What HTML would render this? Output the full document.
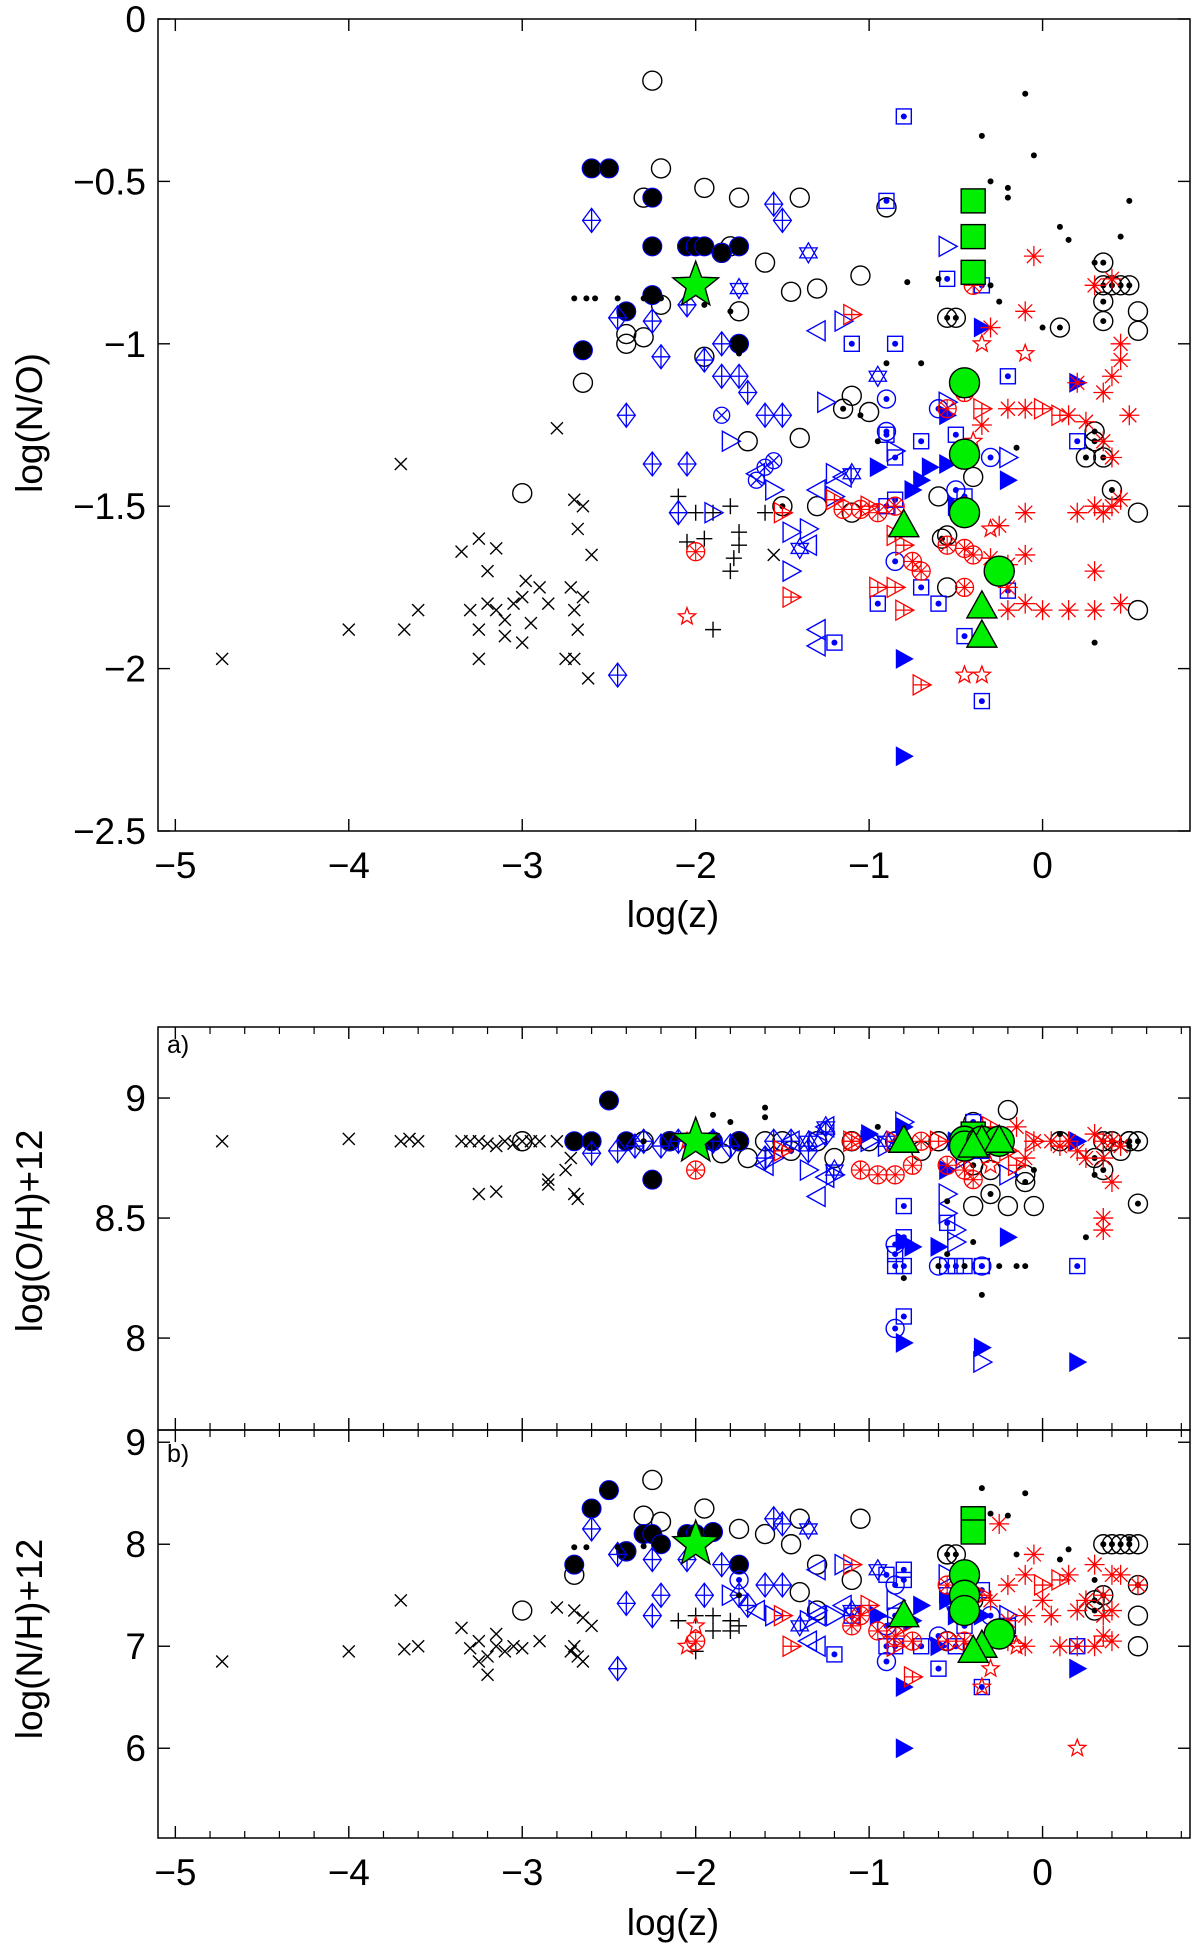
<!DOCTYPE html>
<html><head><meta charset="utf-8"><style>
html,body{margin:0;padding:0;background:#fff;}
svg{display:block;font-family:"Liberation Sans",sans-serif;}
</style></head><body>
<svg id="fig" width="1200" height="1950" viewBox="0 0 1200 1950" xmlns="http://www.w3.org/2000/svg"></svg>
<script>
// ---------- DATA: top panel log(N/O) vs log(z) ----------
const topCross=[[-4.73,-1.97],[-4,-1.88],[-3.7,-1.37],[-3.68,-1.88],[-3.6,-1.82],[-3.35,-1.64],[-3.25,-1.6],[-3.2,-1.7],[-3.15,-1.63],[-3.3,-1.82],[-3.25,-1.88],[-3.2,-1.8],[-3.15,-1.82],[-3.1,-1.85],[-3.05,-1.8],[-3.0,-1.92],[-2.95,-1.86],[-2.9,-1.75],[-2.85,-1.8],[-3.25,-1.97],[-3.1,-1.9],[-2.8,-1.26],[-2.7,-1.48],[-2.65,-1.5],[-2.68,-1.57],[-2.6,-1.65],[-2.72,-1.75],[-2.7,-1.82],[-2.65,-1.78],[-2.68,-1.88],[-2.75,-1.97],[-2.62,-2.03],[-2.7,-1.97],[-3.0,-1.78],[-2.98,-1.73],[-1.55,-1.65]];
const topPlus=[[-2.1,-1.47],[-2,-1.52],[-1.9,-1.52],[-1.8,-1.5],[-1.75,-1.62],[-1.78,-1.66],[-1.8,-1.7],[-1.95,-1.6],[-2.05,-1.61],[-1.9,-1.88],[-1.6,-1.52],[-1.75,-1.58]];
const topDot=[[-2.7,-0.86],[-2.63,-0.86],[-2.58,-0.86],[-2.45,-0.86],[-2.3,-0.86],[-2.2,-0.86],[-1.95,-0.88],[-1.8,-0.9],[-1.75,-1.03],[-1.05,-1.22],[-0.78,-0.81],[-0.6,-0.8],[-0.35,-0.36],[-0.3,-0.5],[-0.2,-0.52],[-0.2,-0.55],[-0.1,-0.23],[-0.05,-0.42],[0.1,-0.64],[0.15,-0.68],[0.3,-0.75],[0.45,-0.67],[0.5,-0.56],[-0.5,-1.32],[0.3,-1.92],[-0.15,-1.32],[0,-0.95],[-0.7,-1.06],[-0.9,-1.06],[-0.95,-1.3],[-0.25,-0.87],[-0.3,-0.82]];
const topOpenCircle=[[-2.25,-0.19],[-2.3,-0.55],[-2.2,-0.46],[-1.95,-0.52],[-1.75,-0.55],[-1.8,-0.7],[-1.85,-0.72],[-1.6,-0.75],[-1.45,-0.84],[-1.3,-0.83],[-1.05,-0.79],[-1.4,-0.55],[-0.9,-0.58],[-2.3,-0.98],[-2.4,-0.97],[-2.65,-1.12],[-2.4,-1.0],[-3.0,-1.46],[-1.1,-1.16],[-1.4,-1.29],[-1.0,-1.21],[-1.3,-1.5],[-1.1,-1.52],[-0.55,-1.75],[-0.55,-1.59],[-0.6,-1.47],[-0.4,-1.41],[0.55,-1.52],[0.55,-1.82],[0.55,-0.96],[0.55,-0.9],[-1.7,-1.3],[-1.95,-1.04],[-2.2,-0.88],[-1.75,-0.9]];
const topFilledCircle=[[-2.6,-0.46],[-2.5,-0.46],[-2.25,-0.55],[-2.25,-0.7],[-2.05,-0.7],[-2.0,-0.7],[-1.95,-0.7],[-1.75,-0.7],[-2.4,-0.9],[-2.25,-0.85],[-2.65,-1.02],[-1.75,-1.0],[-1.85,-0.72]];
const topCircleDot=[[-0.55,-0.92],[-0.5,-0.92],[0.35,-0.75],[0.35,-0.82],[0.4,-0.82],[0.45,-0.82],[0.5,-0.82],[0.35,-0.87],[0.35,-0.93],[0.3,-1.27],[0.3,-1.3],[0.35,-1.35],[0.4,-1.45],[-1.15,-1.2],[-1.5,-1.5],[0.25,-1.35],[-0.58,-1.6],[0.1,-0.95]];
const topDiamond=[[-2.6,-0.62],[-2.45,-0.92],[-2.25,-0.93],[-2.2,-1.04],[-2.05,-0.88],[-1.95,-1.05],[-1.85,-1.0],[-1.75,-1.1],[-2.4,-1.22],[-2.25,-1.37],[-2.05,-1.37],[-1.6,-1.22],[-1.5,-1.22],[-1.55,-0.57],[-1.5,-0.62],[-2.45,-2.02],[-1.7,-1.15],[-1.85,-1.1],[-2.1,-1.52]];
const topCircleX=[[-1.85,-1.22],[-1.6,-1.38],[-1.65,-1.42],[-1.55,-1.36]];
const topTriRightBlue=[[-1.8,-1.3],[-1.55,-1.45],[-1.45,-1.58],[-1.35,-1.57],[-1.2,-1.4],[-1.15,-0.93],[-0.85,-1.33],[-0.55,-0.7],[-0.2,-1.35],[-1.2,-1.47],[-1.45,-1.7],[-1.25,-1.18],[-1.9,-1.52],[-0.55,-1.18]];
const topTriLeftBlue=[[-1.35,-1.62],[-1.3,-1.45],[-1.3,-1.88],[-1.15,-1.41],[-1.3,-0.96],[-1.65,-1.4],[-1.3,-1.93]];
const topHexagram=[[-1.4,-1.63],[-1.35,-0.72],[-0.95,-1.1],[-1.1,-1.4],[-1.75,-0.83]];
const topSquareDot=[[-0.8,-0.3],[-0.9,-0.56],[-0.55,-0.8],[-0.35,-0.82],[-0.85,-1.0],[-1.1,-1.0],[-0.2,-1.1],[-0.85,-1.35],[-0.9,-1.28],[-0.7,-1.3],[-0.5,-1.28],[-0.9,-1.5],[-0.85,-1.48],[-0.7,-1.75],[-0.6,-1.8],[-0.45,-1.9],[-0.35,-2.1],[-1.2,-1.92],[-0.95,-1.8],[0.2,-1.3],[-0.2,-1.76],[-0.45,-1.47]];
const topCircleDotBlue=[[-0.9,-1.27],[-0.9,-1.17],[-0.5,-1.45],[-0.3,-1.35],[-0.85,-1.67],[-0.6,-1.2]];
const topFilledTri=[[-0.75,-1.45],[-0.7,-1.42],[-0.65,-1.38],[-0.55,-1.22],[-0.55,-1.37],[-0.95,-1.38],[-0.35,-0.95],[-0.2,-1.42],[0.2,-1.12],[-0.8,-1.97],[-0.8,-2.27],[-0.5,-1.5]];
const topAsterisk=[[-0.05,-0.73],[-0.1,-0.9],[-0.3,-0.95],[0.3,-0.82],[0.4,-0.8],[0.45,-1.0],[0.45,-1.05],[0.4,-1.1],[0.35,-1.15],[0.2,-1.12],[0.15,-1.22],[0.25,-1.24],[0.5,-1.22],[0.35,-1.3],[0.4,-1.35],[0.45,-1.48],[0.35,-1.52],[0.3,-1.5],[0.2,-1.52],[0.4,-1.5],[-0.2,-1.2],[-0.1,-1.2],[-0.35,-1.25],[-0.25,-1.56],[-0.1,-1.52],[-0.1,-1.65],[-0.2,-1.68],[-0.1,-1.8],[-0.2,-1.82],[-0.45,-1.5],[0.0,-1.82],[0.15,-1.82],[0.3,-1.82],[0.45,-1.8],[0.3,-1.7],[-0.3,-1.66],[-0.2,-1.75]];
const topCircleAst=[[-2.0,-1.64],[-1.05,-1.51],[-1.15,-1.51],[-0.85,-1.5],[-0.75,-1.67],[-0.7,-1.7],[-0.55,-1.62],[-0.45,-1.63],[-0.4,-1.65],[-0.45,-1.75],[-0.55,-1.2],[-0.45,-1.15],[-0.95,-1.52],[-0.4,-0.82]];
const topTriRightRed=[[-1.5,-1.52],[-1.45,-1.78],[-1.0,-1.5],[-0.8,-1.62],[-0.85,-1.75],[-0.8,-1.82],[-0.7,-2.05],[-1.1,-0.91],[-0.35,-1.2],[0.0,-1.2],[0.1,-1.22],[-1.2,-1.48],[-0.95,-1.75],[-0.85,-1.59]];
const topPentagram=[[-2.05,-1.84],[-0.4,-1.3],[-0.35,-1.0],[-0.1,-1.03],[-0.45,-2.02],[-0.35,-2.02],[-0.3,-1.57]];
const topGreenCircle=[[-0.45,-1.12],[-0.45,-1.34],[-0.45,-1.52],[-0.25,-1.7]];
const topGreenTri=[[-0.8,-1.56],[-0.35,-1.81],[-0.35,-1.9]];
const topGreenSquare=[[-0.4,-0.56],[-0.4,-0.67],[-0.4,-0.78]];
const topGreenStar=[[-2,-0.82]];

// ---------- DATA: panel a) log(O/H)+12 ----------
const aCross=[[-4.73,8.82],[-4,8.83],[-3.7,8.82],[-3.65,8.83],[-3.6,8.82],[-3.35,8.82],[-3.3,8.82],[-3.25,8.82],[-3.2,8.81],[-3.15,8.8],[-3.1,8.82],[-3.05,8.81],[-3.0,8.82],[-2.95,8.82],[-2.9,8.82],[-2.8,8.82],[-2.7,8.82],[-3.25,8.6],[-3.15,8.61],[-2.85,8.66],[-2.75,8.7],[-2.7,8.6],[-2.68,8.58],[-2.85,8.64],[-2.72,8.75]];
const aFilledCircle=[[-2.7,8.82],[-2.6,8.82],[-2.5,8.99],[-2.25,8.66],[-2.4,8.82],[-1.75,8.82],[-1.9,8.82],[-2.15,8.82]];
const aOpenCircle=[[-3.0,8.82],[-2.3,8.82],[-1.7,8.75],[-1.2,8.75],[-0.4,8.9],[-0.2,8.95],[-0.4,8.55],[-0.3,8.6],[-0.2,8.55],[-0.05,8.55],[0.1,8.82],[-0.1,8.68],[-0.7,8.78],[-1.0,8.82],[-1.5,8.82],[-2.0,8.82],[0.5,8.82],[0.45,8.78],[-1.85,8.77],[-1.6,8.82],[-1.3,8.82],[-1.1,8.82],[-0.85,8.82],[-0.6,8.82],[-0.3,8.7]];
const aCircleDot=[[0.5,8.82],[0.55,8.82],[0.35,8.82],[0.4,8.82],[0.3,8.75],[0.55,8.56],[0.35,8.7],[-0.4,8.72],[-0.1,8.65],[-2.15,8.82],[-1.75,8.82],[-1.45,8.78]];
const aDot=[[-0.8,8.25],[-0.6,8.3],[-0.55,8.35],[-0.45,8.3],[-0.35,8.18],[-0.3,8.6],[-0.15,8.3],[-0.1,8.3],[-0.25,8.3],[0.1,8.85],[0.3,8.68],[0.5,8.8],[-0.95,8.88],[-0.55,8.57],[-1.8,8.9],[-1.6,8.92],[-1.6,8.96],[-1.9,8.93],[-0.4,8.4],[-0.05,8.7],[0.25,8.42],[-2.7,8.82],[-2.3,8.82]];
const aDiamond=[[-2.6,8.77],[-2.45,8.78],[-2.3,8.82],[-2.1,8.82],[-1.9,8.82],[-1.55,8.82],[-1.45,8.82],[-1.35,8.78],[-1.25,8.85],[-1.6,8.75],[-2.35,8.8],[-2.2,8.8],[-1.8,8.8]];
const aTriRightBlue=[[-1.55,8.75],[-1.35,8.7],[-1.2,8.68],[-1.0,8.82],[-0.8,8.9],[-0.55,8.6],[-0.5,8.4],[-0.45,8.75],[-0.2,8.68],[-0.35,7.9],[-0.9,8.8],[-1.3,8.82],[-0.55,8.52],[-0.5,8.45]];
const aTriLeftBlue=[[-1.3,8.59],[-1.25,8.67],[-1.25,8.88],[-1.45,8.82],[-1.6,8.72]];
const aHexagram=[[-1.25,8.88],[-1.35,8.82],[-0.9,8.82],[-1.2,8.7]];
const aSquareDot=[[-0.8,8.55],[-0.8,8.42],[-0.85,8.35],[-0.85,8.3],[-0.8,8.3],[-0.55,8.3],[-0.5,8.3],[-0.45,8.3],[-0.35,8.3],[0.2,8.3],[-0.8,8.09],[-0.5,8.82],[-0.35,8.78],[-0.55,8.48],[-0.4,8.9]];
const aCircleDotBlue=[[-0.85,8.39],[-0.85,8.04],[-0.6,8.3],[-0.4,8.82],[-0.35,8.3],[-0.85,8.82]];
const aFilledTri=[[-0.8,8.4],[-0.75,8.38],[-0.6,8.38],[-0.2,8.42],[-0.8,7.98],[-0.35,7.96],[0.2,7.9],[-0.8,8.88],[-1.0,8.85],[-0.5,8.82],[0.2,8.82],[-0.55,8.7]];
const aAsterisk=[[0.05,8.82],[0.15,8.82],[0.3,8.85],[0.35,8.82],[0.4,8.82],[0.45,8.8],[0.25,8.75],[0.35,8.75],[0.4,8.65],[0.35,8.5],[0.35,8.45],[-0.1,8.75],[-0.25,8.82],[-0.15,8.88],[-0.05,8.82],[0.2,8.78],[-0.35,8.85],[0.1,8.8]];
const aCircleAst=[[-2.0,8.7],[-1.05,8.7],[-0.95,8.68],[-0.85,8.68],[-0.75,8.72],[-0.55,8.72],[-0.45,8.7],[-1.1,8.82],[-0.7,8.82],[-0.4,8.66]];
const aTriRightRed=[[-1.5,8.78],[-1.1,8.82],[-0.85,8.82],[-0.3,8.88],[-0.05,8.82],[-0.2,8.78],[-0.6,8.82],[-0.15,8.72]];
const aPentagram=[[-0.4,8.8],[-0.3,8.72],[-2.05,8.82]];
const aGreenCircle=[[-0.45,8.82],[-0.45,8.8],[-0.35,8.82],[-0.25,8.82]];
const aGreenTri=[[-0.8,8.82],[-0.35,8.82],[-0.25,8.82],[-0.4,8.8]];
const aGreenSquare=[[-0.4,8.82],[-0.4,8.85]];
const aGreenStar=[[-2,8.82]];

// ---------- DATA: panel b) log(N/H)+12 ----------
const bCross=[[-4.73,6.85],[-4,6.95],[-3.7,7.45],[-3.68,6.97],[-3.6,7.0],[-3.35,7.18],[-3.3,6.98],[-3.25,7.05],[-3.2,6.9],[-3.15,7.12],[-3.1,6.95],[-3.05,7.0],[-3.0,6.98],[-2.9,7.05],[-2.8,7.38],[-2.7,7.35],[-2.65,7.28],[-2.6,7.2],[-2.7,7.0],[-2.68,6.9],[-2.65,6.85],[-3.25,6.85],[-3.2,6.72],[-3.15,7.0],[-2.72,6.95]];
const bPlus=[[-2.1,7.25],[-2.0,7.3],[-1.9,7.3],[-1.8,7.25],[-1.75,7.2],[-1.8,7.15],[-2.0,6.95],[-1.9,7.15]];
const bFilledCircle=[[-2.7,7.8],[-2.6,8.35],[-2.5,8.53],[-2.3,8.1],[-2.25,8.1],[-2.2,8.0],[-2.05,8.1],[-2.0,8.1],[-1.9,8.12],[-1.75,7.8],[-2.4,7.93]];
const bOpenCircle=[[-2.25,8.63],[-2.3,8.28],[-2.2,8.22],[-2.4,7.93],[-2.7,7.7],[-3.0,7.35],[-1.95,8.35],[-1.75,8.15],[-1.6,8.1],[-1.45,8.0],[-1.3,7.8],[-1.05,8.25],[-1.4,8.25],[-1.1,7.65],[-1.4,7.53],[-1.3,7.35],[-0.55,7.9],[0.55,7.3],[0.55,7.0],[0.55,8.0],[-0.55,7.05],[-0.4,7.45]];
const bCircleDot=[[0.35,8.0],[0.4,8.0],[0.45,8.0],[0.5,8.0],[0.3,7.45],[0.35,7.5],[0.3,7.35],[-0.55,7.9],[-0.5,7.9],[0.55,7.6]];
const bDot=[[-2.7,7.97],[-2.63,7.97],[-2.45,7.97],[-2.3,7.98],[-1.75,7.5],[-0.35,8.55],[-0.3,8.3],[-0.2,8.28],[-0.1,8.5],[0.1,7.85],[0.15,7.95],[0.5,8.05],[-0.45,7.45],[-0.8,7.3],[-0.15,7.9],[0.3,7.65]];
const bDiamond=[[-2.6,8.15],[-2.45,7.9],[-2.25,7.85],[-2.2,7.5],[-2.05,7.85],[-1.95,7.5],[-1.85,7.8],[-1.75,7.5],[-2.4,7.42],[-2.25,7.3],[-1.6,7.6],[-1.5,7.6],[-1.55,8.25],[-1.5,8.2],[-2.45,6.78],[-1.7,7.4]];
const bTriRightBlue=[[-1.8,7.5],[-1.55,7.3],[-1.35,7.25],[-1.2,7.3],[-1.15,7.8],[-0.85,7.45],[-0.55,7.7],[-0.2,7.3],[-1.3,7.35]];
const bTriLeftBlue=[[-1.35,7.05],[-1.3,7.3],[-1.3,7.0],[-1.15,7.4],[-1.3,7.75],[-1.65,7.35]];
const bHexagram=[[-1.4,7.2],[-1.35,8.15],[-0.95,7.75],[-1.1,7.35]];
const bSquareDot=[[-0.8,7.65],[-0.9,7.7],[-0.55,7.5],[-0.35,7.55],[-0.85,7.3],[-1.1,7.3],[-0.2,7.2],[-0.85,7.0],[-0.7,7.0],[-0.5,7.0],[-0.9,7.0],[-0.6,6.78],[-0.45,7.2],[-0.35,6.6],[-1.2,6.92],[0.2,7.0],[-0.8,7.75]];
const bCircleDotBlue=[[-0.9,6.85],[-0.9,7.2],[-0.5,7.4],[-0.3,7.3],[-0.85,7.6],[-0.6,7.1],[-1.75,7.65]];
const bFilledTri=[[-0.75,7.25],[-0.7,7.4],[-0.6,7.0],[-0.55,7.45],[-0.95,7.3],[-0.35,7.3],[-0.2,7.1],[0.2,6.78],[-0.8,6.6],[-0.8,6.0],[-0.5,7.3]];
const bAsterisk=[[-0.05,7.9],[-0.1,7.7],[-0.2,7.6],[-0.25,8.2],[0.3,7.8],[0.4,7.7],[0.45,7.7],[0.35,7.5],[0.4,7.35],[0.35,7.3],[0.25,7.45],[0.55,7.6],[0.35,7.1],[0.4,7.05],[0.3,7.0],[0.2,7.0],[0.1,7.0],[-0.1,7.3],[-0.2,7.25],[-0.1,7.0],[-0.2,7.05],[0.0,7.45],[0.05,7.3],[-0.3,7.45],[0.2,7.35],[0.15,7.7]];
const bCircleAst=[[-2.0,7.05],[-1.05,7.3],[-0.95,7.15],[-0.85,7.1],[-0.75,7.05],[-0.55,7.05],[-0.45,7.05],[-0.4,7.5],[-0.55,7.6],[-1.1,7.2]];
const bTriRightRed=[[-1.5,7.3],[-1.45,7.0],[-1.0,7.4],[-0.8,7.2],[-0.85,7.0],[-0.75,6.7],[-1.1,7.8],[-0.35,7.5],[0.0,7.6],[0.1,7.65]];
const bPentagram=[[-2.05,7.0],[-2.0,7.2],[-0.4,7.0],[-0.3,6.78],[-0.15,7.0],[-0.35,6.6],[0.2,6.0]];
const bGreenCircle=[[-0.45,7.7],[-0.45,7.5],[-0.45,7.35],[-0.25,7.12]];
const bGreenTri=[[-0.8,7.3],[-0.35,7.0],[-0.4,6.95]];
const bGreenSquare=[[-0.4,8.25],[-0.4,8.12]];
const bGreenStar=[[-2,8.0]];

// ---------- AXES ----------
const xTicks=[-5,-4,-3,-2,-1,0];
const xTickLabels=["\u22125","\u22124","\u22123","\u22122","\u22121","0"];
const topYTicks=[-2.5,-2,-1.5,-1,-0.5,0];
const topYTickLabels=["\u22122.5","\u22122","\u22121.5","\u22121","\u22120.5","0"];
const aYTicks=[8,8.5,9];
const aYTickLabels=["8","8.5","9"];
const bYTicks=[6,7,8,9];
const bYTickLabels=["6","7","8","9"];

const NS="http://www.w3.org/2000/svg";
const svg=document.getElementById('fig');
function el(tag,attrs,parent){const e=document.createElementNS(NS,tag);for(const k in attrs)e.setAttribute(k,attrs[k]);(parent||svg).appendChild(e);return e;}

const X0=158,X1=1190,XMIN=-5.1,XMAX=0.85;
function xs(v){return X0+(v-XMIN)/(XMAX-XMIN)*(X1-X0);}
function makeY(ymin,ymax,py0,py1){return v=>py1-(v-ymin)/(ymax-ymin)*(py1-py0);}
const panels={
  top:{y:makeY(-2.5,0,19,831),t:19,b:831},
  a:{y:makeY(7.617,9.296,1027,1430),t:1027,b:1430},
  b:{y:makeY(5.12,9.12,1430,1838),t:1430,b:1838}
};

function drawMarker(g,type,cx,cy){
  const B='#0000ff',R='#ff0000',K='#000',G='#00ee00';
  let s;
  switch(type){
    case 'cross': s=6; el('path',{d:`M${cx-s},${cy-s}L${cx+s},${cy+s}M${cx-s},${cy+s}L${cx+s},${cy-s}`,stroke:K,'stroke-width':1.4,fill:'none'},g);break;
    case 'plus': s=8; el('path',{d:`M${cx-s},${cy}L${cx+s},${cy}M${cx},${cy-s}L${cx},${cy+s}`,stroke:K,'stroke-width':1.4,fill:'none'},g);break;
    case 'dot': el('circle',{cx,cy,r:3,fill:K},g);break;
    case 'openCircle': el('circle',{cx,cy,r:9.5,fill:'none',stroke:K,'stroke-width':1.4},g);break;
    case 'filledCircle': el('circle',{cx,cy,r:9.5,fill:K,stroke:B,'stroke-width':1},g);break;
    case 'circleDot': el('circle',{cx,cy,r:9.5,fill:'none',stroke:K,'stroke-width':1.4},g);el('circle',{cx,cy,r:3,fill:K},g);break;
    case 'diamond': el('path',{d:`M${cx},${cy-12}L${cx+9},${cy}L${cx},${cy+12}L${cx-9},${cy}ZM${cx-9},${cy}L${cx+9},${cy}M${cx},${cy-12}L${cx},${cy+12}`,stroke:B,'stroke-width':1.3,fill:'none'},g);break;
    case 'circleX': el('circle',{cx,cy,r:8,fill:'none',stroke:B,'stroke-width':1.3},g);el('path',{d:`M${cx-5.6},${cy-5.6}L${cx+5.6},${cy+5.6}M${cx-5.6},${cy+5.6}L${cx+5.6},${cy-5.6}`,stroke:B,'stroke-width':1.3},g);break;
    case 'triRightBlue': el('path',{d:`M${cx-8},${cy-10}L${cx+10},${cy}L${cx-8},${cy+10}Z`,stroke:B,'stroke-width':1.4,fill:'none'},g);break;
    case 'triLeftBlue': el('path',{d:`M${cx+8},${cy-10}L${cx-10},${cy}L${cx+8},${cy+10}Z`,stroke:B,'stroke-width':1.4,fill:'none'},g);break;
    case 'hexagram': s=10; el('path',{d:`M${cx},${cy-s}L${cx+s*0.87},${cy+s/2}L${cx-s*0.87},${cy+s/2}ZM${cx},${cy+s}L${cx+s*0.87},${cy-s/2}L${cx-s*0.87},${cy-s/2}Z`,stroke:B,'stroke-width':1.3,fill:'none'},g);break;
    case 'squareDot': el('rect',{x:cx-7.5,y:cy-7.5,width:15,height:15,stroke:B,'stroke-width':1.4,fill:'none'},g);el('circle',{cx,cy,r:3,fill:B},g);break;
    case 'circleDotBlue': el('circle',{cx,cy,r:9,fill:'none',stroke:B,'stroke-width':1.4},g);el('circle',{cx,cy,r:3,fill:B},g);break;
    case 'filledTri': el('path',{d:`M${cx-8},${cy-10}L${cx+10},${cy}L${cx-8},${cy+10}Z`,fill:B},g);break;
    case 'asterisk': s=10; el('path',{d:`M${cx-s},${cy}L${cx+s},${cy}M${cx},${cy-s}L${cx},${cy+s}M${cx-7},${cy-7}L${cx+7},${cy+7}M${cx-7},${cy+7}L${cx+7},${cy-7}`,stroke:R,'stroke-width':1.3},g);break;
    case 'circleAst': s=9; el('circle',{cx,cy,r:s,fill:'none',stroke:R,'stroke-width':1.3},g);el('path',{d:`M${cx-s},${cy}L${cx+s},${cy}M${cx},${cy-s}L${cx},${cy+s}M${cx-6.4},${cy-6.4}L${cx+6.4},${cy+6.4}M${cx-6.4},${cy+6.4}L${cx+6.4},${cy-6.4}`,stroke:R,'stroke-width':1.1},g);break;
    case 'triRightRed': el('path',{d:`M${cx-8},${cy-10}L${cx+10},${cy}L${cx-8},${cy+10}ZM${cx-8},${cy}L${cx+10},${cy}M${cx},${cy-5.5}L${cx},${cy+5.5}`,stroke:R,'stroke-width':1.3,fill:'none'},g);break;
    case 'pentagram': s=9; {let p='';for(let i=0;i<10;i++){const r=i%2?s*0.42:s;const a=-Math.PI/2+i*Math.PI/5;p+=(i?'L':'M')+(cx+r*Math.cos(a)).toFixed(1)+','+(cy+r*Math.sin(a)).toFixed(1);}el('path',{d:p+'Z',stroke:R,'stroke-width':1.3,fill:'none'},g);}break;
    case 'greenCircle': el('circle',{cx,cy,r:15,fill:G,stroke:K,'stroke-width':1.4},g);break;
    case 'greenTri': el('path',{d:`M${cx},${cy-16}L${cx+15},${cy+11}L${cx-15},${cy+11}Z`,fill:G,stroke:K,'stroke-width':1.4},g);break;
    case 'greenSquare': el('rect',{x:cx-12,y:cy-12,width:24,height:24,fill:G,stroke:K,'stroke-width':1.4},g);break;
    case 'greenStar': s=24; {let p='';for(let i=0;i<10;i++){const r=i%2?s*0.42:s;const a=-Math.PI/2+i*Math.PI/5;p+=(i?'L':'M')+(cx+r*Math.cos(a)).toFixed(1)+','+(cy+r*Math.sin(a)).toFixed(1);}el('path',{d:p+'Z',fill:G,stroke:K,'stroke-width':1.4},g);}break;
  }
}

function drawSeries(panelKey,name,type,data){
  const p=panels[panelKey];
  const g=el('g',{});
  
  
  for(const d of data){
    const cx=xs(d[0]),cy=p.y(d[1]);
    const m=el('g',{},g);
    
    
    drawMarker(m,type,cx,cy);
  }
}

function drawAxes(key,yTicks,yLabels,showX,minorX,title,titleY){
  const p=panels[key];
  const g=el('g',{});
  
  
  const fr=el('rect',{x:X0,y:p.t,width:X1-X0,height:p.b-p.t,fill:'none',stroke:'#000','stroke-width':1.5},g);
  
  
  xTicks.forEach((v,i)=>{
    const x=xs(v);
    el('line',{x1:x,x2:x,y1:p.b,y2:p.b-12,stroke:'#000','stroke-width':1.4},g);
    el('line',{x1:x,x2:x,y1:p.t,y2:p.t+12,stroke:'#000','stroke-width':1.4},g);
    if(showX){
      const t=el('text',{x:x,y:p.b+47,'font-size':37,'text-anchor':'middle'},g);
      t.textContent=xTickLabels[i];
      
      
    }
  });
  if(minorX){
    for(let k=-50;k<=8;k+=2){const v=k/10;if(Math.abs(v-Math.round(v))<1e-6)continue;const x=xs(v);
      el('line',{x1:x,x2:x,y1:p.b,y2:p.b-7,stroke:'#000','stroke-width':1.2},g);
      el('line',{x1:x,x2:x,y1:p.t,y2:p.t+7,stroke:'#000','stroke-width':1.2},g);}
  }
  yTicks.forEach((v,i)=>{
    const y=p.y(v);
    el('line',{x1:X0,x2:X0+12,y1:y,y2:y,stroke:'#000','stroke-width':1.4},g);
    el('line',{x1:X1,x2:X1-12,y1:y,y2:y,stroke:'#000','stroke-width':1.4},g);
    const t=el('text',{x:X0-12,y:y+13,'font-size':37,'text-anchor':'end'},g);
    t.textContent=yLabels[i];
    
    
  });
  const yt=el('text',{x:0,y:0,'font-size':37,'text-anchor':'middle',transform:`translate(42,${titleY}) rotate(-90)`},g);
  yt.textContent=title;
  
  
}

function drawAll(key,S){
  drawSeries(key,'cross','cross',S.cross||[]);
  drawSeries(key,'plus','plus',S.plus||[]);
  drawSeries(key,'open-circle','openCircle',S.oc);
  drawSeries(key,'circle-dot','circleDot',S.cd);
  drawSeries(key,'filled-circle','filledCircle',S.fc);
  drawSeries(key,'diamond','diamond',S.di);
  drawSeries(key,'circle-x','circleX',S.cx||[]);
  drawSeries(key,'tri-right-blue','triRightBlue',S.trb);
  drawSeries(key,'tri-left-blue','triLeftBlue',S.tlb);
  drawSeries(key,'hexagram','hexagram',S.hx);
  drawSeries(key,'square-dot','squareDot',S.sd);
  drawSeries(key,'circle-dot-blue','circleDotBlue',S.cdb);
  drawSeries(key,'filled-tri','filledTri',S.ft);
  drawSeries(key,'asterisk','asterisk',S.as);
  drawSeries(key,'circle-asterisk','circleAst',S.ca);
  drawSeries(key,'tri-right-red','triRightRed',S.trr);
  drawSeries(key,'pentagram','pentagram',S.pg);
  drawSeries(key,'dot','dot',S.dot);
  drawSeries(key,'green-square','greenSquare',S.gs);
  drawSeries(key,'green-circle','greenCircle',S.gc);
  drawSeries(key,'green-triangle','greenTri',S.gt);
  drawSeries(key,'green-star','greenStar',S.gst);
}

drawAll('top',{cross:topCross,plus:topPlus,oc:topOpenCircle,cd:topCircleDot,fc:topFilledCircle,di:topDiamond,cx:topCircleX,trb:topTriRightBlue,tlb:topTriLeftBlue,hx:topHexagram,sd:topSquareDot,cdb:topCircleDotBlue,ft:topFilledTri,as:topAsterisk,ca:topCircleAst,trr:topTriRightRed,pg:topPentagram,dot:topDot,gs:topGreenSquare,gc:topGreenCircle,gt:topGreenTri,gst:topGreenStar});
drawAll('a',{cross:aCross,oc:aOpenCircle,cd:aCircleDot,fc:aFilledCircle,di:aDiamond,trb:aTriRightBlue,tlb:aTriLeftBlue,hx:aHexagram,sd:aSquareDot,cdb:aCircleDotBlue,ft:aFilledTri,as:aAsterisk,ca:aCircleAst,trr:aTriRightRed,pg:aPentagram,dot:aDot,gs:aGreenSquare,gc:aGreenCircle,gt:aGreenTri,gst:aGreenStar});
drawAll('b',{cross:bCross,plus:bPlus,oc:bOpenCircle,cd:bCircleDot,fc:bFilledCircle,di:bDiamond,trb:bTriRightBlue,tlb:bTriLeftBlue,hx:bHexagram,sd:bSquareDot,cdb:bCircleDotBlue,ft:bFilledTri,as:bAsterisk,ca:bCircleAst,trr:bTriRightRed,pg:bPentagram,dot:bDot,gs:bGreenSquare,gc:bGreenCircle,gt:bGreenTri,gst:bGreenStar});

drawAxes('top',topYTicks,topYTickLabels,true,false,'log(N/O)',423);
drawAxes('a',aYTicks,aYTickLabels,false,true,'log(O/H)+12',1231);
drawAxes('b',bYTicks,bYTickLabels,true,true,'log(N/H)+12',1639);

function label(txt,x,y,size,name){const t=el('text',{x,y,'font-size':size,'text-anchor':'middle'});t.textContent=txt;}
label('log(z)',673,927,37,'top-x-axis-title');
label('log(z)',673,1935,37,'bottom-x-axis-title');
const la=el('text',{x:167,y:1053,'font-size':25});la.textContent='a)';


const lb=el('text',{x:167,y:1462,'font-size':25});lb.textContent='b)';


</script>
</body></html>
